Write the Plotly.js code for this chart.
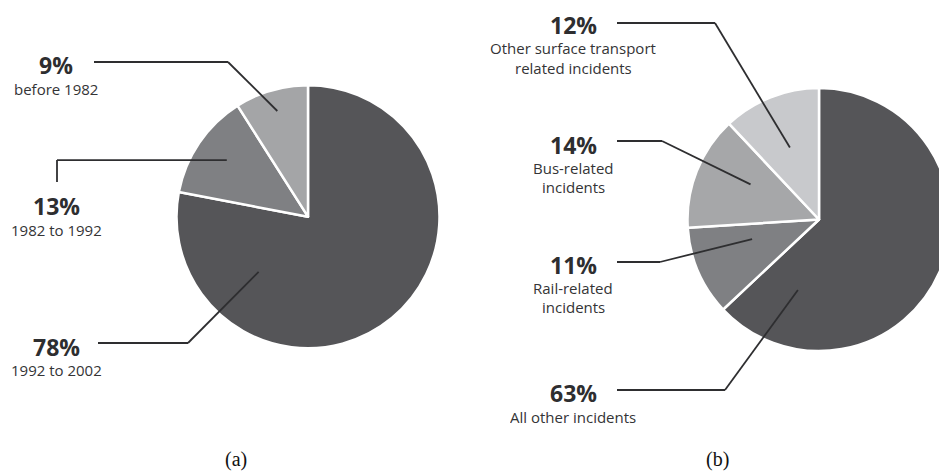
<!DOCTYPE html>
<html><head><meta charset="utf-8">
<script src="https://cdn.plot.ly/plotly-3.0.1.min.js"></script>
<style>html,body{margin:0;padding:0;overflow:hidden;background:#fff}#chart{width:960px;height:472px}</style>
</head><body><div id="chart"></div>
<script>
// ---- data ----
const periodLabels = ['1992 to 2002', '1982 to 1992', 'before 1982'];
const periodValues = [78, 13, 9];
const incidentLabels = ['All other incidents', 'Rail-related incidents', 'Bus-related incidents', 'Other surface transport related incidents'];
const incidentValues = [63, 11, 14, 12];
const incidentDisplay = ['All other incidents', 'Rail-related<br>incidents', 'Bus-related<br>incidents', 'Other surface transport<br>related incidents'];
const panelCaptions = ['(a)', '(b)'];

// ---- styling / layout ----
const periodColors = ['#555558', '#7f8083', '#a4a5a7'];
const incidentColors = ['#555558', '#7f8083', '#a6a7a9', '#c8c9cc'];
const W = 960, H = 472;
const ink = '#2e2e30';

const panels = [
  { labels: periodLabels, values: periodValues, display: periodLabels, colors: periodColors,
    cx: 308, cy: 216.7, r: 131.5, textX: 56, caption: {x: 236, y: 459},
    callouts: [
      {pct: 346, sub: 370, gap: 18.5, f: 0.79, k: 0.563, path: 'h', start: [98, 343], knee: [188, 343]},
      {pct: 205.5, sub: 229.5, gap: 18.5, f: 0.515, k: 0.753, path: 'v', start: [57, 182]},
      {pct: 64.5, sub: 88.5, gap: 18.5, f: 0.5, k: 0.837, path: 'h', start: [94, 62], knee: [228, 62]}
    ]},
  { labels: incidentLabels, values: incidentValues, display: incidentDisplay, colors: incidentColors,
    cx: 819, cy: 219.5, r: 131.5, textX: 573, caption: {x: 717, y: 459},
    callouts: [
      {pct: 392.5, sub: 417, gap: 18.5, f: 0.867, k: 0.56, path: 'h', start: [617, 390], knee: [725, 390]},
      {pct: 264.5, sub: 288, gap: 18.5, f: 0.68, k: 0.53, path: 'h', start: [617, 262], knee: [660, 262]},
      {pct: 144.5, sub: 168, gap: 18.5, f: 0.61, k: 0.585, path: 'h', start: [617, 141], knee: [662, 141]},
      {pct: 24.5, sub: 48, gap: 19.5, f: 0.49, k: 0.59, path: 'h', start: [617, 23], knee: [715, 23]}
    ]}
];

const px = x => x / W, py = y => 1 - y / H;
const data = [], annotations = [], shapes = [];

panels.forEach(p => {
  data.push({
    type: 'pie', labels: p.labels, values: p.values, sort: false,
    direction: 'clockwise', rotation: 0, textinfo: 'none', hoverinfo: 'label+percent',
    marker: { colors: p.colors, line: { color: '#ffffff', width: 2.5 } },
    domain: { x: [px(p.cx - p.r), px(p.cx + p.r)], y: [py(p.cy + p.r), py(p.cy - p.r)] },
    showlegend: false
  });
  const total = p.values.reduce((a, b) => a + b, 0);
  let cum = 0;
  p.values.forEach((v, i) => {
    const c = p.callouts[i];
    const th = 2 * Math.PI * (cum + c.f * v) / total;
    cum += v;
    const ex = p.cx + c.k * p.r * Math.sin(th);
    const ey = p.cy - c.k * p.r * Math.cos(th);
    let pts;
    if (c.path === 'v') pts = [c.start, [c.start[0], ey], [ex, ey]];
    else pts = [c.start, c.knee, [ex, ey]];
    for (let j = 0; j < pts.length - 1; j++) {
      shapes.push({ type: 'line', xref: 'paper', yref: 'paper',
        x0: px(pts[j][0]), y0: py(pts[j][1]), x1: px(pts[j + 1][0]), y1: py(pts[j + 1][1]),
        line: { color: ink, width: 1.8 } });
    }
    annotations.push({ xref: 'paper', yref: 'paper', x: px(p.textX), y: py(c.pct),
      xanchor: 'center', yanchor: 'middle', showarrow: false, height: 23, borderpad: 0,
      text: '<b>' + v + '%</b>', font: { family: 'Open Sans, sans-serif', size: 23, color: ink } });
    p.display[i].split('<br>').forEach((line, li) => {
      annotations.push({ xref: 'paper', yref: 'paper', x: px(p.textX), y: py(c.sub + li * c.gap),
        xanchor: 'center', yanchor: 'middle', showarrow: false, height: 18, borderpad: 0,
        text: line, font: { family: 'Open Sans, sans-serif', size: 15, color: '#343436' } });
    });
  });
});

panelCaptions.forEach((t, i) => {
  const c = panels[i].caption;
  annotations.push({ xref: 'paper', yref: 'paper', x: px(c.x), y: py(c.y),
    xanchor: 'center', yanchor: 'middle', showarrow: false, text: t,
    font: { family: 'Liberation Serif, Times New Roman, serif', size: 20, color: '#111' } });
});

Plotly.newPlot('chart', data, {
  width: W, height: H, margin: { l: 0, r: 0, t: 0, b: 0 },
  paper_bgcolor: '#fff', plot_bgcolor: '#fff',
  annotations, shapes
}, { displayModeBar: false, staticPlot: true });
</script></body></html>
